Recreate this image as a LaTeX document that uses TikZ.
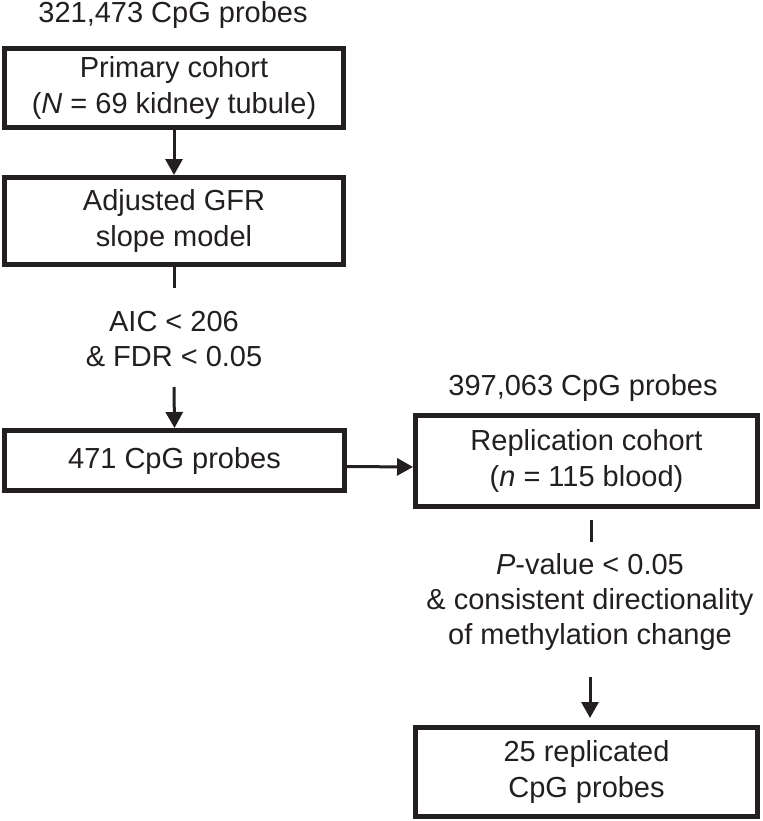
\documentclass[tikz,border=0pt]{standalone}
\usepackage{fontspec}
\usepackage{xcolor}
\usepackage{tikz}
\usetikzlibrary{arrows.meta}
\setmainfont{Liberation Sans}
\definecolor{inkdark}{RGB}{35,31,32}

\begin{document}
\begin{tikzpicture}[x=0.02cm, y=-0.02cm,
    every node/.style={text=inkdark, font=\fontsize{16.5}{20}\selectfont},
    flowbox/.style={draw=inkdark, line width=0.1cm, line join=miter, align=center, inner sep=0pt},
    flowtext/.style={align=center, inner sep=0pt},
    arr/.style={draw=inkdark, line width=0.06cm, -{Triangle[length=0.32cm, width=0.34cm]}},
    stub/.style={draw=inkdark, line width=0.06cm}]
    \useasboundingbox (0,0) rectangle (762,821);

    % Left column
    \node[anchor=base] (probesA) at (173,23) {321,473 CpG probes};
    \node[flowbox, minimum width=6.78cm, minimum height=1.58cm] (primary) at (174,88) {Primary cohort\\(\textit{N} = 69 kidney tubule)};
    \node[flowbox, minimum width=6.78cm, minimum height=1.74cm] (slope) at (174,221) {Adjusted GFR\\slope model};
    \node[flowtext] (aic) at (174,339) {AIC < 206\\\& FDR < 0.05};
    \node[flowbox, minimum width=6.8cm, minimum height=1.2cm] (filtered) at (174.5,460.5) {471 CpG probes};

    % Right column
    \node[anchor=base] (probesB) at (583,395) {397,063 CpG probes};
    \node[flowbox, minimum width=6.84cm, minimum height=1.82cm] (replic) at (586.5,461) {Replication cohort\\(\textit{n} = 115 blood)};
    \node[flowtext] (pval) at (590,602) {\textit{P}-value < 0.05\\\& consistent directionality\\of methylation change};
    \node[flowbox, minimum width=6.84cm, minimum height=1.78cm] (final) at (586.5,772) {25 replicated\\CpG probes};

    % Free ends of the connectors
    \coordinate (slopeStub) at (174,288);
    \coordinate (aicOut) at (174,387);
    \coordinate (replicStubA) at (591,520);
    \coordinate (replicStubB) at (591,542);
    \coordinate (pvalOut) at (590,677);

    % Connectors
    \draw[arr] (primary.south) -- (slope.north);
    \draw[stub] (slope.south) -- (slopeStub);
    \draw[arr] (aicOut) -- (filtered.north);
    \draw[arr] ([yshift=-0.12cm]filtered.east) -- ([yshift=-0.12cm]replic.west);
    \draw[stub] (replicStubA) -- (replicStubB);
    \draw[arr, shorten >=0.14cm] (pvalOut) -- (pvalOut |- final.north);
\end{tikzpicture}
\end{document}
